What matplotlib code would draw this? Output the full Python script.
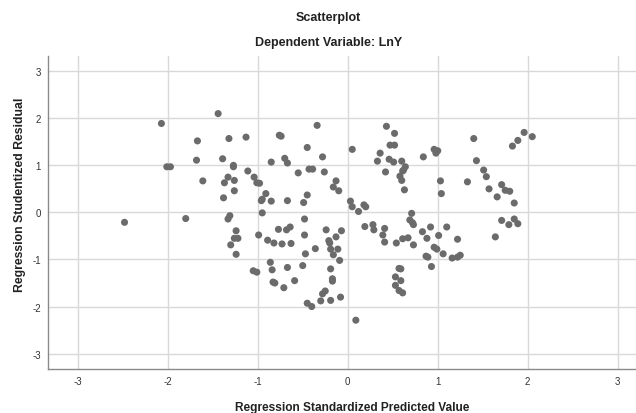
import matplotlib
matplotlib.use('Agg')
import matplotlib.pyplot as plt

plt.rcParams['font.family'] = ['Liberation Sans', 'DejaVu Sans']
plt.rcParams['axes.unicode_minus'] = False

# standardized predicted value (x) and studentized residual (y)
pred = [-2.48, -2.07, -2.01, -1.97, -1.80, -1.68, -1.67, -1.61, -1.44, -1.39,
        -1.38, -1.37, -1.33, -1.32, -1.31, -1.33, -1.27, -1.27, -1.26, -1.26,
        -1.24, -1.26, -1.22, -1.30, -1.24, -1.13, -1.11, -1.04, -1.01, -0.98,
        -0.99, -0.91, -0.95, -0.96, -0.95, -0.89, -0.82, -0.85, -0.85, -0.86,
        -0.84, -1.05, -1.01, -0.83, -0.81, -0.77, -0.76, -0.74, -0.73, -0.71,
        -0.70, -0.67, -0.68, -0.64, -0.67, -0.67, -0.63, -0.59, -0.55, -0.50,
        -0.49, -0.48, -0.48, -0.47, -0.45, -0.45, -0.45, -0.40, -0.43, -0.39,
        -0.36, -0.34, -0.30, -0.28, -0.28, -0.25, -0.26, -0.24, -0.21, -0.20,
        -0.19, -0.19, -0.19, -0.17, -0.17, -0.16, -0.16, -0.13, -0.13, -0.11,
        -0.10, -0.09, -0.08, -0.07,
        0.03, 0.05, 0.05, 0.09, 0.12, 0.18, 0.20, 0.19, 0.28, 0.29,
        0.33, 0.36, 0.39, 0.41, 0.41, 0.42, 0.43, 0.46, 0.47, 0.52,
        0.51, 0.52, 0.54, 0.53, 0.53, 0.57, 0.59, 0.59, 0.57, 0.61,
        0.58, 0.60, 0.60, 0.61, 0.62, 0.64, 0.61, 0.67, 0.63, 0.69,
        0.71, 0.72, 0.73, 0.73, 0.83, 0.84, 0.87, 0.89, 0.88, 0.92,
        0.93, 0.96, 0.98, 1.00, 0.96, 0.99, 1.01, 1.03, 1.04, 1.06,
        1.10, 1.16, 1.22, 1.25, 1.22, 1.33, 1.40, 1.43, 1.51, 1.54,
        1.57, 1.64, 1.66, 1.71, 1.71, 1.75, 1.79, 1.80, 1.83, 1.85,
        1.85, 1.89, 1.89, 1.96, 2.05]
resid = [-0.21, 1.89, 0.97, 0.97, -0.13, 1.11, 1.52, 0.67, 2.10, 1.14,
         0.31, 0.63, 0.75, 1.57, -0.07, -0.14, 1.00, 0.97, 0.68, 0.46,
         -0.39, -0.55, -0.55, -0.69, -0.89, 1.60, 0.88, 0.75, 0.63, 0.62,
         -0.48, 0.40, 0.28, 0.25, -0.01, -0.59, -0.65, 1.07, 0.24, -1.06,
         -1.22, -1.24, -1.27, -1.48, -1.50, -0.36, 1.64, 1.62, -0.67, -1.60,
         1.15, 1.05, -0.37, -0.31, 0.25, -1.17, -0.66, -1.45, 0.84, -1.13,
         0.21, -0.14, -0.48, -0.88, 1.38, 0.37, -1.93, -2.00, 0.92, 0.92,
         -0.77, 1.85, -1.88, 1.18, -1.73, -1.67, 0.86, -0.37, -0.60, -0.65,
         -0.78, -1.20, -1.87, -1.41, -1.46, 0.54, -0.90, 0.67, -0.52, -0.78,
         0.46, -1.02, -1.80, -0.39,
         0.24, 0.12, 1.34, -2.29, 0.02, 0.16, 0.12, -0.30, -0.26, -0.37,
         1.09, 1.26, -0.48, -0.63, -0.34, 0.86, 1.83, 1.13, 1.43, 1.43,
         1.07, 1.68, -0.65, -1.37, -1.55, -1.19, -1.20, -1.45, -1.66, -1.71,
         0.77, 0.68, 1.09, 0.88, 0.90, 0.97, -0.56, -0.54, 0.48, -0.16,
         -0.02, -0.22, -0.26, -0.69, -0.41, 1.18, -0.93, -0.95, -0.55, -0.31,
         -1.15, 1.34, 1.26, 1.31, -0.74, -0.78, -0.49, 0.67, 0.40, -0.88,
         -0.31, -0.97, -0.95, -0.91, -0.57, 0.65, 1.57, 1.10, 0.90, 0.76,
         0.50, -0.52, 0.33, 0.59, -0.17, 0.47, -0.26, 0.45, 1.41, -0.14,
         0.20, -0.24, 1.53, 1.70, 1.61]

ticks = [-3, -2, -1, 0, 1, 2, 3]

fig = plt.figure(figsize=(6.36, 4.14), dpi=100)
ax = fig.add_axes([0.0755, 0.106, 0.9425, 0.757])

ax.scatter(pred, resid, s=26, color='#6b6b6b', edgecolors='none', zorder=3)

ax.set_xlim(-3.33, 3.33)
ax.set_ylim(-3.33, 3.33)
ax.set_xticks(ticks)
ax.set_yticks(ticks)
ax.grid(True, color='#d9d9d9', linewidth=1)
ax.set_axisbelow(True)
ax.tick_params(length=0, labelsize=7, colors='#333333', pad=5)

for side in ['top', 'right']:
    ax.spines[side].set_visible(False)
for side in ['left', 'bottom']:
    ax.spines[side].set_color('#8a8a8a')
    ax.spines[side].set_linewidth(1)

fig.text(0.516, 0.956, 'Scatterplot', ha='center', va='center',
         fontsize=9, fontweight='bold', color='#222222')
fig.text(0.516, 0.895, 'Dependent Variable: LnY', ha='center', va='center',
         fontsize=9, fontweight='bold', color='#222222')
fig.text(0.553, 0.014, 'Regression Standardized Predicted Value', ha='center',
         va='center', fontsize=8.6, fontweight='bold', color='#222222')
fig.text(0.031, 0.529, 'Regression Studentized Residual', ha='center',
         va='center', rotation=90, fontsize=8.8, fontweight='bold', color='#222222')

fig.savefig('out.png', dpi=100)
